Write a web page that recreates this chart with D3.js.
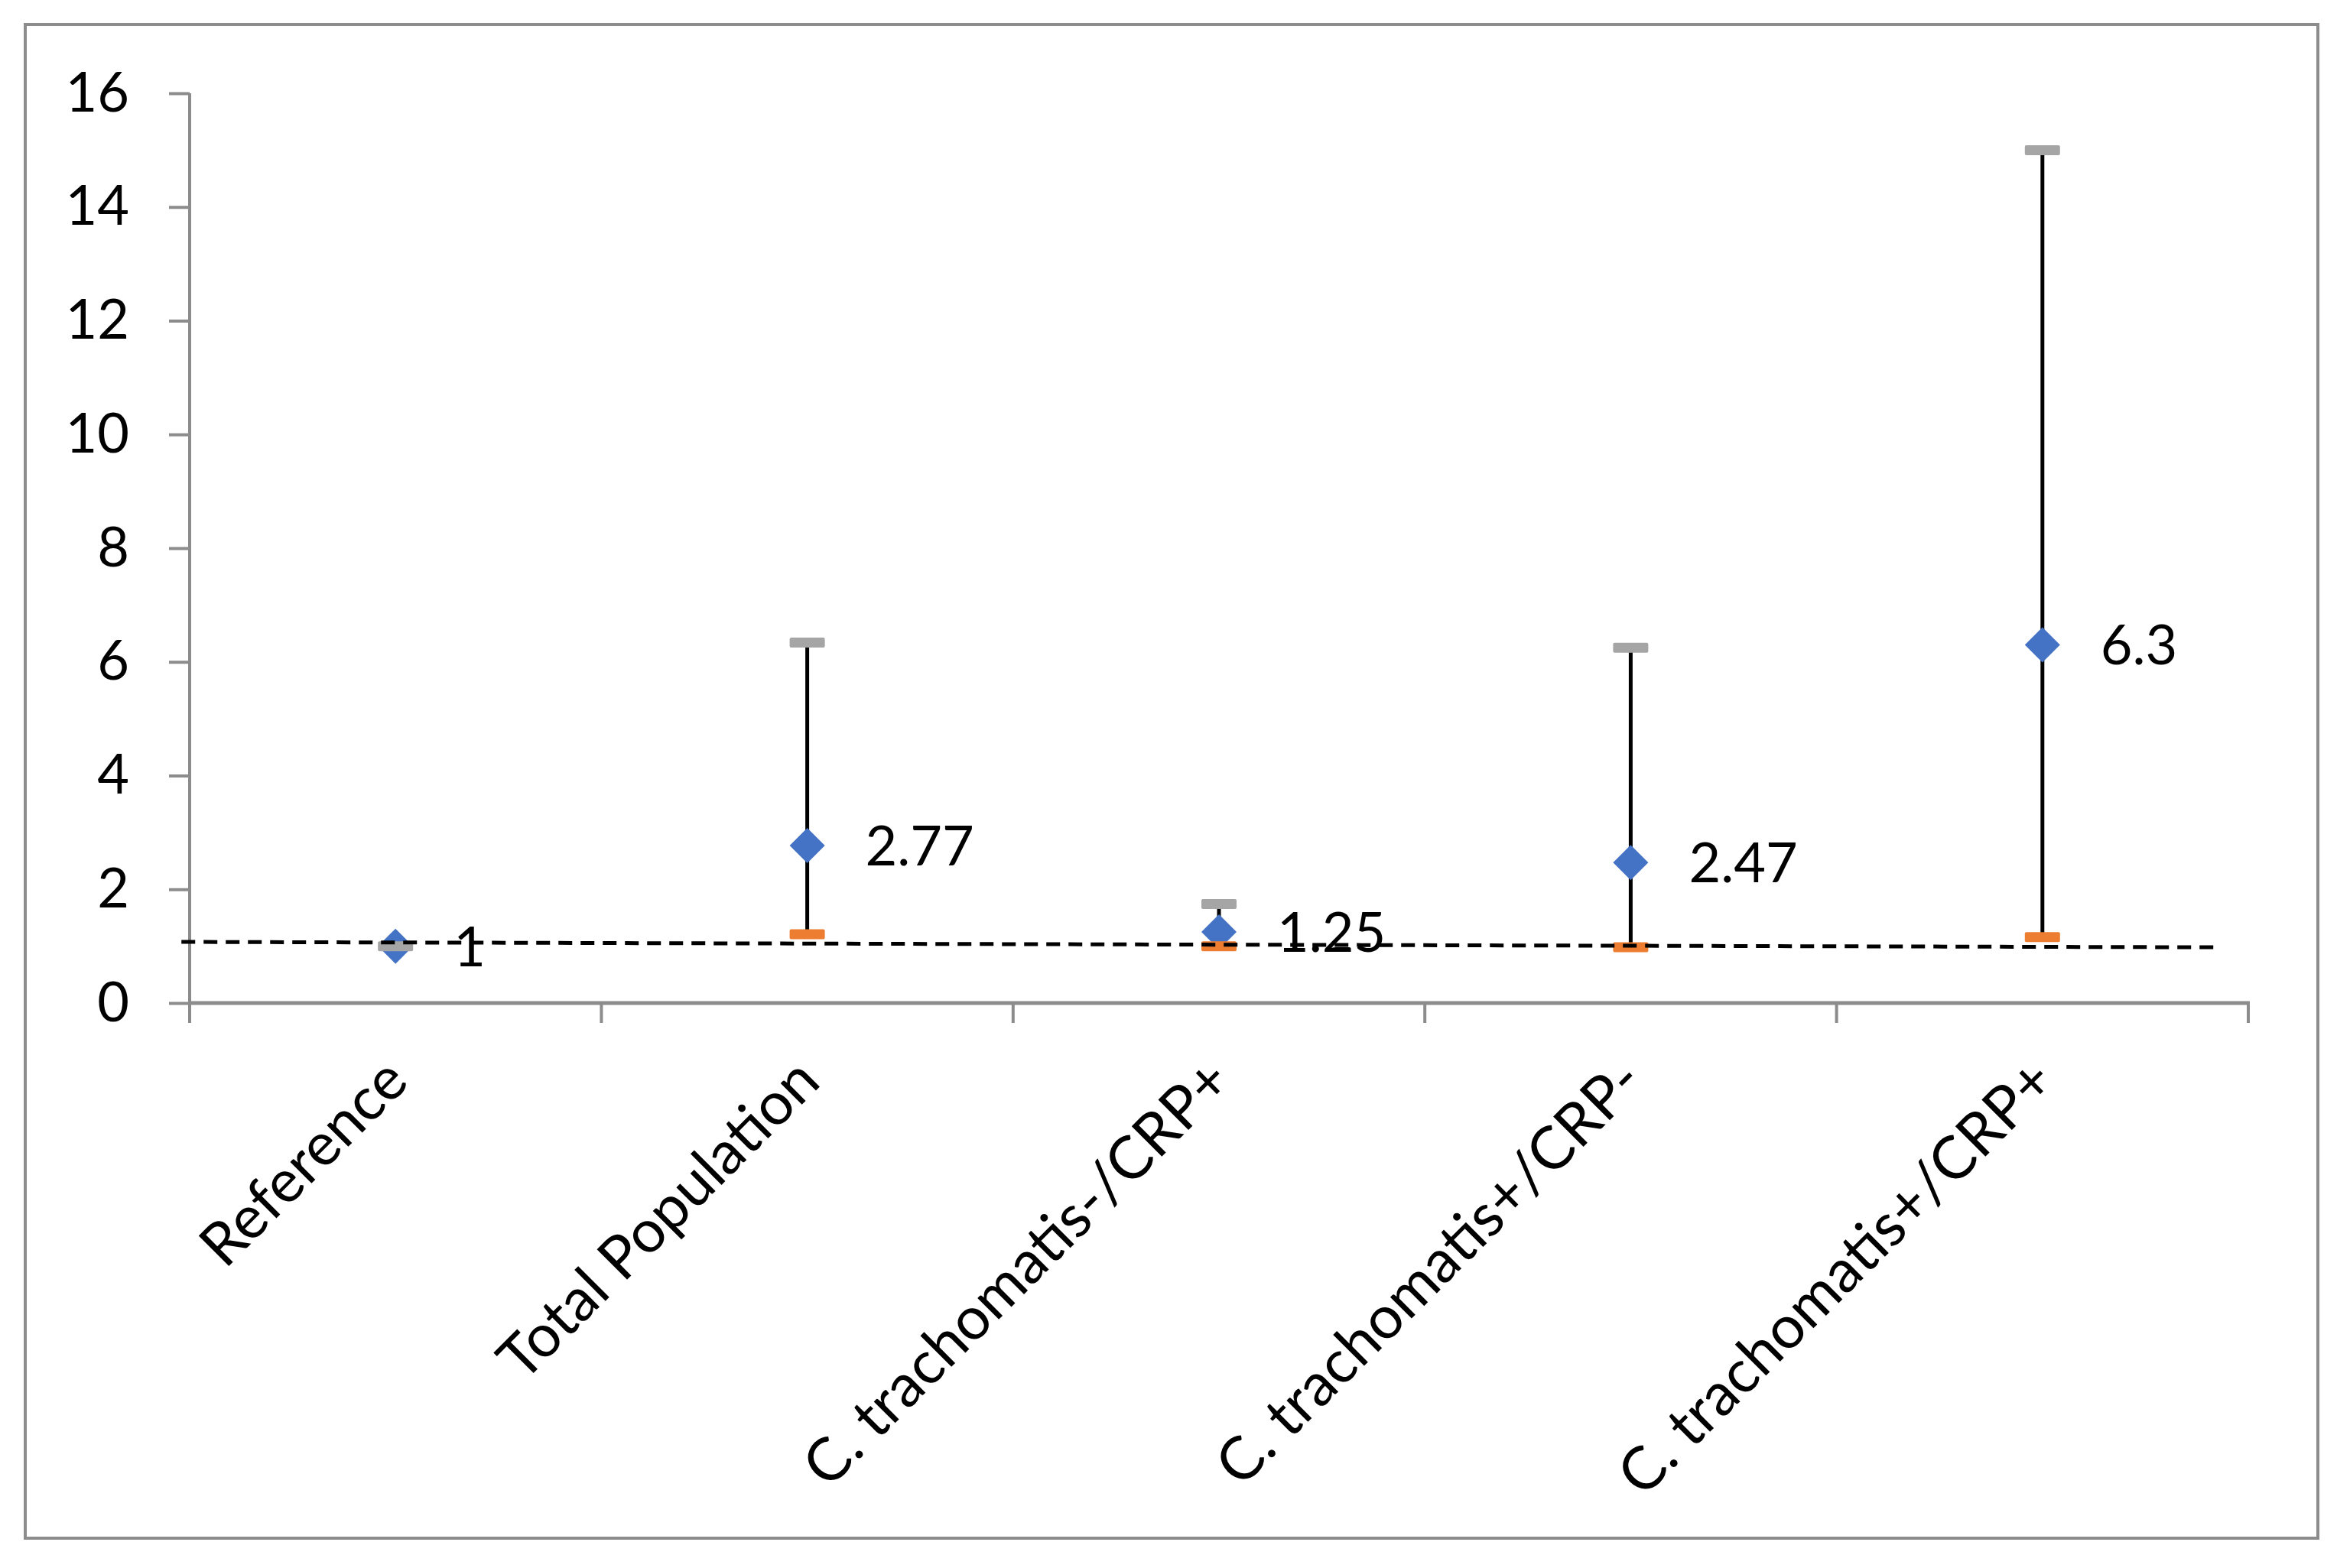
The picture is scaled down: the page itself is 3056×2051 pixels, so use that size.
<!DOCTYPE html>
<html>
<head>
<meta charset="utf-8">
<style>
  body { margin: 0; background: #fff; }
  text { font-family: Lato, "Open Sans", sans-serif; fill: #000; }
</style>
</head>
<body>
<script src="https://d3js.org/d3.v7.min.js"></script>
<script>
// DATA
var categories = ["Reference", "Total Population", "C. trachomatis-/CRP+", "C. trachomatis+/CRP-", "C. trachomatis+/CRP+"];
var pointValues = [1, 2.77, 1.25, 2.47, 6.3];
var upperValues = [1, 6.34, 1.74, 6.25, 15.0];
var lowerValues = [1, 1.21, 1.0, 0.98, 1.16];
var yTicks = [0, 2, 4, 6, 8, 10, 12, 14, 16];
// dashed reference line, position in category units
var refLine = [{pos: -0.52, value: 1.075}, {pos: 4.43, value: 0.98}];

var W = 3056, H = 2051;
var plotLeft = 248, plotRight = 2940, plotTop = 122, plotBottom = 1312;

var svg = d3.select("body").append("svg")
  .attr("width", W).attr("height", H);

// outer frame
svg.append("rect")
  .attr("x", 33).attr("y", 32).attr("width", 2998).attr("height", 1980)
  .attr("fill", "#fff").attr("stroke", "#8c8c8c").attr("stroke-width", 4);

var x = d3.scaleBand().domain(categories).range([plotLeft, plotRight]);
var xPos = d3.scaleLinear().domain([-0.5, 4.5]).range([plotLeft, plotRight]);
var y = d3.scaleLinear().domain([0, 16]).range([plotBottom, plotTop]);

var data = categories.map(function(c, i) {
  return {cat: c, v: pointValues[i], hi: upperValues[i], lo: lowerValues[i]};
});
function cx(d) { return x(d.cat) + x.bandwidth() / 2; }

// y axis
var yAxis = svg.append("g").attr("transform", "translate(" + plotLeft + ",0)")
  .call(d3.axisLeft(y).tickValues(yTicks).tickSize(27).tickPadding(52));
yAxis.select(".domain").remove();
yAxis.selectAll(".tick line").attr("stroke", "#8c8c8c").attr("stroke-width", 4);
yAxis.selectAll(".tick text").attr("font-size", 72).attr("font-family", "Lato").attr("fill", "#000");
svg.append("line")
  .attr("x1", plotLeft).attr("x2", plotLeft).attr("y1", plotTop).attr("y2", plotBottom + 26)
  .attr("stroke", "#8c8c8c").attr("stroke-width", 4);

// x axis
svg.append("line")
  .attr("x1", plotLeft - 2).attr("x2", plotRight + 2).attr("y1", plotBottom).attr("y2", plotBottom)
  .attr("stroke", "#8c8c8c").attr("stroke-width", 5);
svg.selectAll(".xtick")
  .data(d3.range(categories.length + 1))
  .enter().append("line")
  .attr("x1", function(i) { return xPos(i - 0.5); })
  .attr("x2", function(i) { return xPos(i - 0.5); })
  .attr("y1", plotBottom).attr("y2", plotBottom + 26)
  .attr("stroke", "#8c8c8c").attr("stroke-width", 4);

svg.selectAll(".xlabel")
  .data(categories)
  .enter().append("text")
  .attr("text-anchor", "end")
  .attr("font-size", 78)
  .attr("transform", function(c) {
    return "translate(" + (x(c) + x.bandwidth() / 2 + 20) + ",1418) rotate(-45)";
  })
  .text(function(c) { return c; });

// high-low lines
svg.selectAll(".hilo")
  .data(data)
  .enter().append("line")
  .attr("x1", cx).attr("x2", cx)
  .attr("y1", function(d) { return y(d.hi); })
  .attr("y2", function(d) { return y(d.lo); })
  .attr("stroke", "#000").attr("stroke-width", 5);

// point estimates
svg.selectAll(".pt")
  .data(data)
  .enter().append("path")
  .attr("d", d3.symbol(d3.symbolSquare, 1058))
  .attr("transform", function(d) { return "translate(" + cx(d) + "," + y(d.v) + ") rotate(45)"; })
  .attr("fill", "#4472C4");

// upper caps
svg.selectAll(".hi")
  .data(data)
  .enter().append("rect")
  .attr("x", function(d) { return cx(d) - 23; })
  .attr("y", function(d) { return y(d.hi) - 6.5; })
  .attr("width", 46).attr("height", 13).attr("rx", 2)
  .attr("fill", "#A5A5A5");

// lower caps (hidden under upper for the reference)
svg.selectAll(".lo")
  .data(data.filter(function(d) { return d.lo !== d.hi; }))
  .enter().append("rect")
  .attr("x", function(d) { return cx(d) - 23; })
  .attr("y", function(d) { return y(d.lo) - 6.5; })
  .attr("width", 46).attr("height", 13).attr("rx", 2)
  .attr("fill", "#ED7D31");

// value labels
svg.selectAll(".lbl")
  .data(data)
  .enter().append("text")
  .attr("x", function(d) { return cx(d) + 76; })
  .attr("y", function(d) { return y(d.v); })
  .attr("dy", "0.36em")
  .attr("font-size", 72)
  .text(function(d) { return d.v; });

// dashed reference line
svg.append("path")
  .datum(refLine)
  .attr("d", d3.line()
    .x(function(d) { return xPos(d.pos); })
    .y(function(d) { return y(d.value); }))
  .attr("fill", "none")
  .attr("stroke", "#000")
  .attr("stroke-width", 5)
  .attr("stroke-dasharray", "18,11");
</script>
</body>
</html>
